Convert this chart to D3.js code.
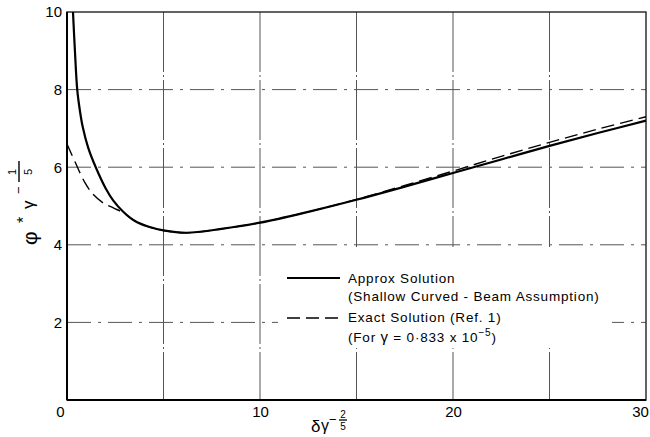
<!DOCTYPE html>
<html>
<head>
<meta charset="utf-8">
<script src="https://cdn.jsdelivr.net/npm/d3@7"></script>
<style>
  body { margin: 0; background: #fff; }
  svg { display: block; font-family: "Liberation Sans", Arial, sans-serif; }
</style>
</head>
<body>
<div id="chart"></div>
<script>
// approx solution (shallow curved-beam assumption)
const approxX = [0.31, 0.41, 0.53, 0.65, 0.81, 1.1, 1.49, 2.0, 2.4, 2.9, 3.5, 4.2, 5.0, 6.2, 8, 10, 12.5, 15, 17.5, 20, 22.5, 25, 27.5, 30];
const approxY = [10, 9, 8, 7.52, 7.05, 6.5, 6, 5.46, 5.14, 4.86, 4.62, 4.47, 4.37, 4.31, 4.41, 4.57, 4.85, 5.16, 5.5, 5.85, 6.2, 6.55, 6.88, 7.2];
// exact solution (ref. 1)
const exactX = [0, 0.45, 0.93, 1.3, 1.87, 2.4, 2.9, 3.5, 4.2, 5.0, 6.2, 8, 10, 12.5, 15, 17.5, 20, 22.5, 25, 27.5, 30];
const exactY = [6.6, 6.1, 5.6, 5.33, 5.08, 4.95, 4.83, 4.62, 4.47, 4.37, 4.31, 4.41, 4.57, 4.85, 5.17, 5.53, 5.9, 6.28, 6.64, 6.98, 7.3];

const xLabelTicks = [0, 10, 20, 30];
const yLabelTicks = [2, 4, 6, 8, 10];
const xGrid = [5, 10, 15, 20, 25];
const yGrid = [2, 4, 6, 8];

const legendLines = [
  "Approx  Solution",
  "(Shallow Curved - Beam Assumption)",
  "Exact Solution (Ref. 1)"
];

const width = 650, height = 437;
const margins = { top: 12, right: 4, bot: 37, left: 67 };

const x = d3.scaleLinear().domain([0, 30]).range([margins.left, width - margins.right]);
const y = d3.scaleLinear().domain([0, 10]).range([height - margins.bot, margins.top]);

const svg = d3.select("#chart").append("svg")
  .attr("width", width)
  .attr("height", height);

// grid lines
svg.append("g").selectAll("line").data(xGrid).join("line")
  .attr("x1", d => x(d)).attr("x2", d => x(d))
  .attr("y1", y(10)).attr("y2", y(0))
  .attr("stroke", "#555").attr("stroke-width", 1)
  .attr("stroke-dasharray", "60,3,2,3");

svg.append("g").selectAll("line").data(yGrid).join("line")
  .attr("x1", x(0)).attr("x2", x(30))
  .attr("y1", d => y(d)).attr("y2", d => y(d))
  .attr("stroke", "#555").attr("stroke-width", 1)
  .attr("stroke-dasharray", "24,7,3,7");

// white panel behind the legend
svg.append("rect")
  .attr("x", 278).attr("y", 247)
  .attr("width", 334).attr("height", 101)
  .attr("fill", "#fff");

// frame
svg.append("rect")
  .attr("x", x(0)).attr("y", y(10))
  .attr("width", x(30) - x(0)).attr("height", y(0) - y(10))
  .attr("fill", "none").attr("stroke", "#222").attr("stroke-width", 1.4);
svg.append("line")
  .attr("x1", x(0)).attr("x2", x(0)).attr("y1", y(10)).attr("y2", y(0))
  .attr("stroke", "#000").attr("stroke-width", 2);
svg.append("line")
  .attr("x1", x(0)).attr("x2", x(30)).attr("y1", y(0)).attr("y2", y(0))
  .attr("stroke", "#000").attr("stroke-width", 2);

// curves
const line = d3.line().curve(d3.curveCatmullRom.alpha(0.5)).x(d => x(d[0])).y(d => y(d[1]));

svg.append("path")
  .datum(exactX.map((v, i) => [v, exactY[i]]))
  .attr("d", line)
  .attr("fill", "none").attr("stroke", "#000").attr("stroke-width", 1.4)
  .attr("stroke-dasharray", "13,6");

svg.append("path")
  .datum(approxX.map((v, i) => [v, approxY[i]]))
  .attr("d", line)
  .attr("fill", "none").attr("stroke", "#000").attr("stroke-width", 2.2);

// axes labels
const xAxisCall = d3.axisBottom(x).tickValues(xLabelTicks).tickSize(0).tickPadding(6).tickFormat(d3.format("d"));
const xAxisGroup = svg.append("g")
  .attr("transform", `translate(0,${y(0)})`)
  .call(xAxisCall);
xAxisGroup.select(".domain").remove();
xAxisGroup.selectAll("text")
  .attr("font-size", 15).attr("font-family", "Liberation Sans, Arial, sans-serif").attr("fill", "#000")
  .attr("dx", d => d === 0 ? -7 : d === 30 ? -6 : 0);

const yAxisCall = d3.axisLeft(y).tickValues(yLabelTicks).tickSize(0).tickPadding(5).tickFormat(d3.format("d"));
const yAxisGroup = svg.append("g")
  .attr("transform", `translate(${x(0)},0)`)
  .call(yAxisCall);
yAxisGroup.select(".domain").remove();
yAxisGroup.selectAll("text")
  .attr("font-size", 15).attr("font-family", "Liberation Sans, Arial, sans-serif").attr("fill", "#000");

// y title: phi* gamma^(-1/5)
const yTitle = svg.append("g").attr("transform", "translate(37,246) rotate(-90)");
yTitle.append("text").attr("x", 1).attr("y", 0).attr("font-size", 21).text("φ");
yTitle.append("text").attr("x", 23).attr("y", -8).attr("font-size", 16).text("*");
yTitle.append("text").attr("x", 37).attr("y", -3).attr("font-size", 17).text("γ");
yTitle.append("text").attr("x", 52).attr("y", -14).attr("font-size", 13).text("−");
yTitle.append("line").attr("x1", 64).attr("x2", 85).attr("y1", -18).attr("y2", -18)
  .attr("stroke", "#000").attr("stroke-width", 1.4);
yTitle.append("text").attr("x", 74).attr("y", -21).attr("font-size", 11).attr("text-anchor", "middle").text("1");
yTitle.append("text").attr("x", 74).attr("y", -5).attr("font-size", 11).attr("text-anchor", "middle").text("5");

// x title: delta gamma^(-2/5)
const xTitle = svg.append("g").attr("transform", "translate(311,432)");
xTitle.append("text").attr("x", 0).attr("y", 0).attr("font-size", 17).text("δ");
xTitle.append("text").attr("x", 10).attr("y", -1).attr("font-size", 16).text("γ");
xTitle.append("text").attr("x", 18).attr("y", -8).attr("font-size", 13).text("−");
xTitle.append("line").attr("x1", 28).attr("x2", 36).attr("y1", -12).attr("y2", -12)
  .attr("stroke", "#000").attr("stroke-width", 1.3);
xTitle.append("text").attr("x", 32).attr("y", -14).attr("font-size", 10).attr("text-anchor", "middle").text("2");
xTitle.append("text").attr("x", 32).attr("y", -2).attr("font-size", 10).attr("text-anchor", "middle").text("5");

// legend
const legend = svg.append("g").attr("font-size", 13.5).attr("letter-spacing", 0.8);
legend.append("line").attr("x1", 287).attr("x2", 340).attr("y1", 278).attr("y2", 278)
  .attr("stroke", "#000").attr("stroke-width", 2.2);
legend.append("line").attr("x1", 287).attr("x2", 340).attr("y1", 318).attr("y2", 318)
  .attr("stroke", "#000").attr("stroke-width", 1.4).attr("stroke-dasharray", "13,6");
legend.selectAll("text.row").data(legendLines).join("text")
  .attr("class", "row")
  .attr("x", 348)
  .attr("y", (d, i) => [283, 301, 322][i])
  .text(d => d);
const forLine = legend.append("text").attr("x", 348).attr("y", 342);
forLine.append("tspan").text("(For ");
forLine.append("tspan").attr("font-size", 15).text("γ");
forLine.append("tspan").text("  = 0·833  x 10");
forLine.append("tspan").attr("dy", -6).attr("font-size", 10).text("−5");
forLine.append("tspan").attr("dy", 6).text(")");
</script>
</body>
</html>
